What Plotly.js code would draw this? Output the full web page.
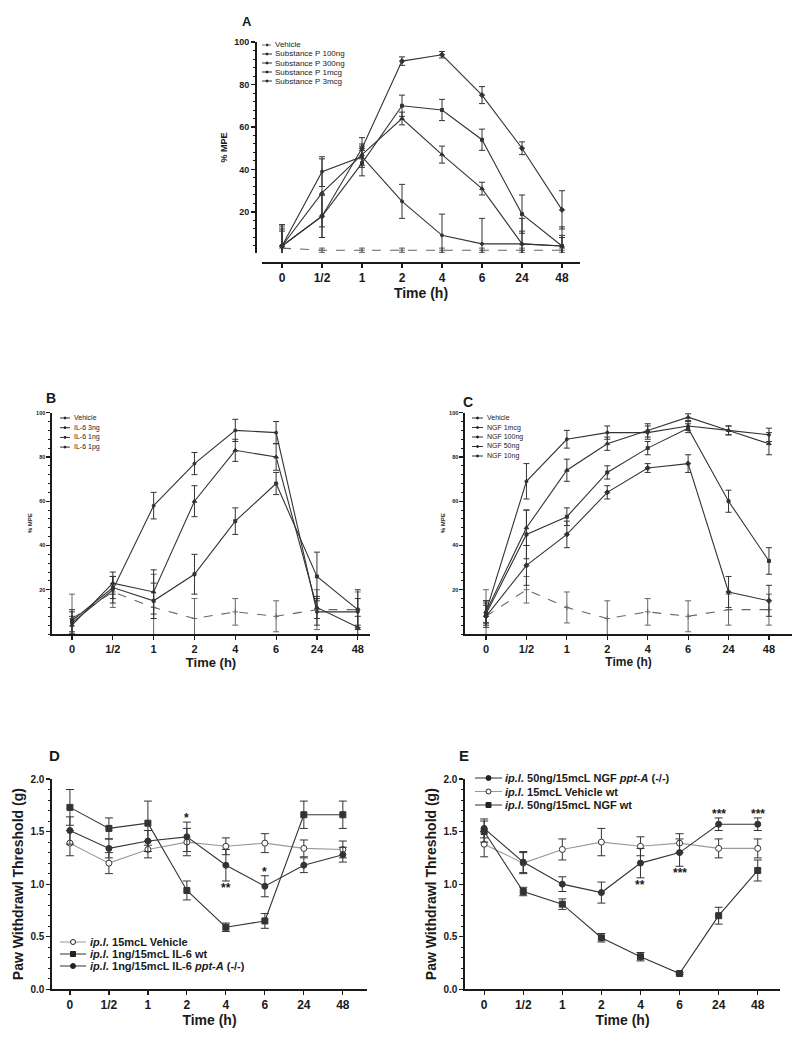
<!DOCTYPE html>
<html>
<head>
<meta charset="utf-8">
<script src="https://cdn.plot.ly/plotly-3.0.1.min.js"></script>
<style>html,body{margin:0;padding:0;background:#fff;}</style>
</head>
<body>
<div id="chart" style="width:811px;height:1050px;"></div>
<script>
// ---------------- DATA ----------------
const timeLabels = ['0', '1/2', '1', '2', '4', '6', '24', '48'];

// Panel A – Substance P (% MPE)
const aNames = ['Vehicle', 'Substance P 100ng', 'Substance P 300ng', 'Substance P 1mcg', 'Substance P 3mcg'];
const aVehicle     = [3, 2, 2, 2, 2, 2, 2, 2];
const aVehicleErr  = [10, 1, 1, 1, 1, 1, 1, 1];
const aSP100       = [4, 39, 46, 25, 9, 5, 5, 4];
const aSP100Err    = [10, 7, 5, 8, 10, 12, 6, 4];
const aSP300       = [4, 29, 47, 64, 47, 31, 5, 4];
const aSP300Err    = [7, 16, 5, 3, 4, 3, 12, 9];
const aSP1mcg      = [4, 18, 43, 70, 68, 54, 19, 4];
const aSP1mcgErr   = [8, 10, 6, 5, 5, 5, 9, 5];
const aSP3mcg      = [4, 18, 50, 91, 94, 75, 50, 21];
const aSP3mcgErr   = [10, 10, 5, 2, 1.5, 4, 3, 9];

// Panel B – IL-6 (% MPE)
const bNames = ['Vehicle', 'IL-6 3ng', 'IL-6 1ng', 'IL-6 1pg'];
const bVehicle     = [7, 19, 12, 7, 10, 8, 11, 11];
const bVehicleErr  = [11, 7, 15, 9, 6, 7, 9, 8];
const bIL3ng       = [5, 20, 58, 77, 92, 91, 10, 10];
const bIL3ngErr    = [5, 6, 6, 5, 5, 5, 6, 6];
const bIL1ng       = [4, 23, 19, 60, 83, 80, 12, 3];
const bIL1ngErr    = [4, 5, 10, 7, 5, 6, 5, 5];
const bIL1pg       = [6, 21, 15, 27, 51, 68, 26, 11];
const bIL1pgErr    = [5, 5, 8, 9, 6, 5, 11, 9];

// Panel C – NGF (% MPE)
const cNames = ['Vehicle', 'NGF 1mcg', 'NGF 100ng', 'NGF 50ng', 'NGF 10ng'];
const cVehicle     = [8, 20, 12, 7, 10, 8, 11, 11];
const cVehicleErr  = [12, 6, 7, 8, 6, 7, 7, 7];
const cNGF1mcg     = [10, 69, 88, 91, 91, 94, 92, 90];
const cNGF1mcgErr  = [5, 8, 4, 3, 3, 2, 2, 3];
const cNGF100      = [10, 48, 74, 86, 92, 98, 92, 86];
const cNGF100Err   = [5, 8, 5, 3, 3, 1.5, 2, 5];
const cNGF50       = [9, 45, 53, 73, 84, 93, 60, 33];
const cNGF50Err    = [5, 11, 4, 3, 3, 2, 5, 6];
const cNGF10       = [8, 31, 45, 64, 75, 77, 19, 15];
const cNGF10Err    = [5, 9, 6, 3, 2, 4, 7, 7];

// Panel D – IL-6, paw withdrawal threshold (g)
const dNames = ['<i>ip.l.</i> 15mcL Vehicle', '<i>ip.l.</i> 1ng/15mcL IL-6 wt', '<i>ip.l.</i> 1ng/15mcL IL-6 <i>ppt-A</i> (-/-)'];
const dVehicle     = [1.39, 1.20, 1.33, 1.40, 1.36, 1.39, 1.34, 1.33];
const dVehicleErr  = [0.12, 0.10, 0.08, 0.13, 0.08, 0.09, 0.08, 0.08];
const dIL6wt       = [1.73, 1.53, 1.58, 0.94, 0.59, 0.65, 1.66, 1.66];
const dIL6wtErr    = [0.17, 0.10, 0.21, 0.09, 0.04, 0.07, 0.13, 0.13];
const dIL6ppt      = [1.51, 1.34, 1.41, 1.45, 1.18, 0.98, 1.18, 1.28];
const dIL6pptErr   = [0.13, 0.09, 0.10, 0.14, 0.15, 0.10, 0.07, 0.07];
const dSig         = ['', '', '', '*', '**', '*', '', ''];
const dSigSide     = ['', '', '', 'above', 'below', 'above', '', ''];

// Panel E – NGF, paw withdrawal threshold (g)
const eNames = ['<i>ip.l.</i> 50ng/15mcL NGF <i>ppt-A</i> (-/-)', '<i>ip.l.</i> 15mcL Vehicle wt', '<i>ip.l.</i> 50ng/15mcL NGF wt'];
const eNGFppt      = [1.53, 1.21, 1.00, 0.92, 1.20, 1.30, 1.57, 1.57];
const eNGFpptErr   = [0.09, 0.10, 0.07, 0.10, 0.14, 0.13, 0.06, 0.06];
const eVehicle     = [1.38, 1.20, 1.33, 1.40, 1.36, 1.39, 1.34, 1.34];
const eVehicleErr  = [0.12, 0.10, 0.10, 0.13, 0.09, 0.09, 0.09, 0.09];
const eNGFwt       = [1.50, 0.93, 0.81, 0.49, 0.31, 0.15, 0.70, 1.13];
const eNGFwtErr    = [0.10, 0.04, 0.05, 0.04, 0.04, 0.01, 0.08, 0.10];
const eSig         = ['', '', '', '', '**', '***', '***', '***'];
const eSigSide     = ['', '', '', '', 'below', 'below', 'above', 'above'];

// ---------------- LAYOUT HELPERS ----------------
const W = 811, H = 1050;
const px = v => v / W;
const py = v => 1 - v / H;
const FONT = 'Liberation Sans, Arial, sans-serif';
const INK = '#1a1a1a';

function series(xa, ya, y, err, name, st) {
  return {
    type: 'scatter', mode: 'lines+markers', name: name,
    x: timeLabels, y: y, xaxis: xa, yaxis: ya, showlegend: false, cliponaxis: false,
    line: {color: st.color, width: st.lw || 1.1, dash: st.dash || 'solid'},
    marker: {symbol: st.symbol, size: st.size, color: st.fill || st.color,
             line: {color: st.mcolor || st.color, width: 1}},
    error_y: {type: 'data', array: err, visible: true, color: st.ecolor || st.color,
              thickness: 1, width: st.cap || 3}
  };
}

const styleVehA = {color: '#666', dash: 'dash', symbol: 'cross-thin-open', size: 4};
const styleS1 = {color: '#333', symbol: 'circle', size: 3};
const styleS2 = {color: '#333', symbol: 'triangle-up', size: 4};
const styleS3 = {color: '#333', symbol: 'square', size: 3};
const styleS4 = {color: '#333', symbol: 'diamond', size: 4};

const traces = [
  // A
  series('x', 'y', aVehicle, aVehicleErr, aNames[0], styleVehA),
  series('x', 'y', aSP100, aSP100Err, aNames[1], styleS1),
  series('x', 'y', aSP300, aSP300Err, aNames[2], styleS2),
  series('x', 'y', aSP1mcg, aSP1mcgErr, aNames[3], styleS3),
  series('x', 'y', aSP3mcg, aSP3mcgErr, aNames[4], styleS4),
  // B
  series('x2', 'y2', bVehicle, bVehicleErr, bNames[0], styleVehA),
  series('x2', 'y2', bIL3ng, bIL3ngErr, bNames[1], styleS1),
  series('x2', 'y2', bIL1ng, bIL1ngErr, bNames[2], styleS2),
  series('x2', 'y2', bIL1pg, bIL1pgErr, bNames[3], styleS3),
  // C
  series('x3', 'y3', cVehicle, cVehicleErr, cNames[0], styleVehA),
  series('x3', 'y3', cNGF1mcg, cNGF1mcgErr, cNames[1], styleS1),
  series('x3', 'y3', cNGF100, cNGF100Err, cNames[2], styleS2),
  series('x3', 'y3', cNGF50, cNGF50Err, cNames[3], styleS3),
  series('x3', 'y3', cNGF10, cNGF10Err, cNames[4], styleS4),
  // D
  series('x4', 'y4', dVehicle, dVehicleErr, dNames[0], {color: '#9a9a9a', mcolor: '#333', ecolor: '#333', fill: '#fff', symbol: 'circle', size: 6, cap: 4}),
  series('x4', 'y4', dIL6wt, dIL6wtErr, dNames[1], {color: '#333', symbol: 'square', size: 6, cap: 4}),
  series('x4', 'y4', dIL6ppt, dIL6pptErr, dNames[2], {color: '#333', symbol: 'circle', size: 6, cap: 4}),
  // E
  series('x5', 'y5', eVehicle, eVehicleErr, eNames[1], {color: '#9a9a9a', mcolor: '#333', ecolor: '#333', fill: '#fff', symbol: 'circle', size: 6, cap: 4}),
  series('x5', 'y5', eNGFppt, eNGFpptErr, eNames[0], {color: '#333', symbol: 'circle', size: 6, cap: 4}),
  series('x5', 'y5', eNGFwt, eNGFwtErr, eNames[2], {color: '#333', symbol: 'square', size: 6, cap: 4})
];

function xAxis(d0, d1, r0, r1, anchor, extra, tickSize, titleSize) {
  return Object.assign({
    type: 'category', categoryorder: 'array', categoryarray: timeLabels,
    domain: [px(d0), px(d1)], range: [r0, r1], anchor: anchor,
    showline: true, linecolor: INK, linewidth: 1.6, showgrid: false, zeroline: false,
    ticks: 'outside', ticklen: 4, tickcolor: INK, tickwidth: 1.2,
    tickfont: {family: FONT, size: tickSize, color: INK, weight: 'bold'},
    title: {text: 'Time (h)', font: {family: FONT, size: titleSize, color: INK, weight: 'bold'}, standoff: 2}
  }, extra || {});
}
function yAxis(top, bottom, range, anchor, tickvals, ticktext, minorDt, tickSize, title, titleSize, extra) {
  return Object.assign({
    domain: [py(bottom), py(top)], range: range, anchor: anchor,
    showline: true, linecolor: INK, linewidth: 1.6, showgrid: false, zeroline: false,
    tickmode: 'array', tickvals: tickvals, ticktext: ticktext,
    ticks: 'outside', ticklen: 4, tickcolor: INK, tickwidth: 1.2,
    minor: {tickmode: 'linear', tick0: 0, dtick: minorDt, ticks: 'outside', ticklen: 2.5, tickcolor: INK, tickwidth: 1},
    tickfont: {family: FONT, size: tickSize, color: INK, weight: 'bold'},
    title: {text: title, font: {family: FONT, size: titleSize, color: INK, weight: 'bold'}, standoff: 3}
  }, extra || {});
}

const mpeTicks = [20, 40, 60, 80, 100];
const mpeText = mpeTicks.map(String);
const pwtTicks = [0, 0.5, 1.0, 1.5, 2.0];
const pwtText = pwtTicks.map(v => v.toFixed(1));

const layout = {
  width: W, height: H, margin: {l: 0, r: 0, t: 0, b: 0},
  paper_bgcolor: '#fff', plot_bgcolor: 'rgba(0,0,0,0)', showlegend: false,
  font: {family: FONT, color: INK},
  // Panel A
  xaxis: xAxis(262, 580, -0.5, 7.45, 'free', {position: py(262)}, 12, 14),
  yaxis: yAxis(42, 253, [0.7, 100], 'free', mpeTicks, mpeText, 4, 9, '% MPE', 9, {position: px(255)}),
  // Panel B
  xaxis2: xAxis(52, 370, -0.49, 7.30, 'y2', null, 11, 13),
  yaxis2: yAxis(412.7, 634, [0, 100], 'x2', mpeTicks, mpeText, 4, 5.5, '% MPE', 6),
  // Panel C
  xaxis3: xAxis(465, 792, -0.52, 7.57, 'y3', null, 11, 12),
  yaxis3: yAxis(412.7, 634, [0, 100], 'x3', mpeTicks, mpeText, 4, 5.5, '% MPE', 6),
  // Panel D
  xaxis4: xAxis(52, 367, -0.46, 7.62, 'y4', null, 12, 14),
  yaxis4: yAxis(779, 989.3, [0, 2], 'x4', pwtTicks, pwtText, 0.1, 10, 'Paw Withdrawl Threshold (g)', 14),
  // Panel E
  xaxis5: xAxis(465, 780, -0.49, 7.57, 'y5', null, 12, 14),
  yaxis5: yAxis(779, 989.3, [0, 2], 'x5', pwtTicks, pwtText, 0.1, 10, 'Paw Withdrawl Threshold (g)', 14),
  shapes: [],
  annotations: []
};

// Panel letters
[['A', 247, 22, 13], ['B', 51, 398, 14], ['C', 468, 402, 14], ['D', 54, 755, 15], ['E', 464, 755, 15]].forEach(p => {
  layout.annotations.push({text: '<b>' + p[0] + '</b>', xref: 'paper', yref: 'paper', x: px(p[1]), y: py(p[2]),
    xanchor: 'center', yanchor: 'middle', showarrow: false, font: {family: FONT, size: p[3], color: INK}});
});

// Hand-drawn legends (GraphPad style, compact rows)
function legend(spec) {
  spec.items.forEach((it, i) => {
    const yy = spec.y0 + i * spec.dy;
    layout.shapes.push({type: 'line', xref: 'paper', yref: 'paper', x0: px(spec.x0), x1: px(spec.x1), y0: py(yy), y1: py(yy),
      line: {color: it.color, width: 1, dash: it.dash || 'solid'}});
    const r = spec.r, xm = (spec.x0 + spec.x1) / 2;
    if (it.mark) {
      layout.shapes.push({type: it.mark === 'square' ? 'rect' : 'circle', xref: 'paper', yref: 'paper',
        x0: px(xm - r), x1: px(xm + r), y0: py(yy + r), y1: py(yy - r),
        fillcolor: it.open ? '#fff' : '#222', line: {color: '#222', width: 1}});
    }
    layout.annotations.push({text: it.name, xref: 'paper', yref: 'paper', x: px(spec.xt), y: py(yy),
      xanchor: 'left', yanchor: 'middle', showarrow: false,
      font: {family: FONT, size: spec.fs, color: INK, weight: spec.bold ? 'bold' : 'normal'}});
  });
}
legend({x0: 262, x1: 272, xt: 273, y0: 45, dy: 9, r: 1, fs: 8, bold: false,
  items: aNames.map((n, i) => ({name: n, color: i === 0 ? '#666' : '#333', dash: i === 0 ? 'dot' : 'solid', mark: 'circle'}))});
legend({x0: 60, x1: 70, xt: 72, y0: 418, dy: 9.7, r: 1, fs: 7, bold: false,
  items: bNames.map((n, i) => ({name: n, color: '#333', mark: 'circle'}))});
legend({x0: 472, x1: 483, xt: 485, y0: 418, dy: 9.5, r: 1, fs: 7, bold: false,
  items: cNames.map((n, i) => ({name: n, color: '#333', mark: 'circle'}))});
legend({x0: 60, x1: 86, xt: 88, y0: 942, dy: 12, r: 2.5, fs: 11, bold: true,
  items: [{name: dNames[0], color: '#9a9a9a', mark: 'circle', open: true},
          {name: dNames[1], color: '#333', mark: 'square'},
          {name: dNames[2], color: '#333', mark: 'circle'}]});
legend({x0: 475, x1: 502, xt: 503, y0: 778, dy: 13.5, r: 2.5, fs: 11, bold: true,
  items: [{name: eNames[0], color: '#333', mark: 'circle'},
          {name: eNames[1], color: '#9a9a9a', mark: 'circle', open: true},
          {name: eNames[2], color: '#333', mark: 'square'}]});

// Significance asterisks, placed relative to the ppt-A series error bars
// (x given as category index, since the tick labels look numeric)
function stars(xa, ya, sig, side, vals, errs) {
  sig.forEach((s, i) => {
    if (!s) return;
    const above = side[i] === 'above';
    layout.annotations.push({text: '<b>' + s + '</b>', xref: xa, yref: ya, x: i,
      y: above ? vals[i] + errs[i] : vals[i] - errs[i],
      xanchor: 'center', yanchor: above ? 'bottom' : 'top', yshift: above ? -5 : 2, showarrow: false,
      font: {family: FONT, size: 12, color: INK}});
  });
}
stars('x4', 'y4', dSig, dSigSide, dIL6ppt, dIL6pptErr);
stars('x5', 'y5', eSig, eSigSide, eNGFppt, eNGFpptErr);

Plotly.newPlot('chart', traces, layout, {staticPlot: true, displayModeBar: false});
</script>
</body>
</html>
